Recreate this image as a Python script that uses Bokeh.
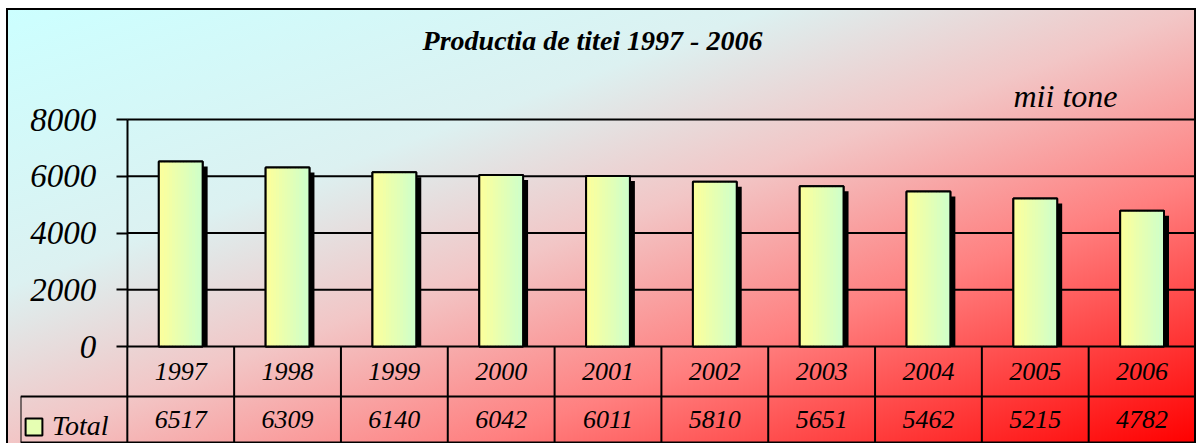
from bokeh.plotting import figure
from bokeh.models import (ColumnDataSource, FactorRange, Range1d, FixedTicker, Label,
                          Legend, LegendItem)
from bokeh.transform import dodge
from bokeh.core.properties import value
from bokeh.embed import file_html
from bokeh.resources import INLINE

# ---------------- data ----------------
years = ["1997", "1998", "1999", "2000", "2001", "2002", "2003", "2004", "2005", "2006"]
production = [6517, 6309, 6140, 6042, 6011, 5810, 5651, 5462, 5215, 4782]
y_ticks = [0, 2000, 4000, 6000, 8000]
title_text = "Productia de titei 1997 - 2006"
unit_text = "mii tone"
series_name = "Total"

# ---------------- layout constants (pixels) ----------------
W, H = 1197, 443        # canvas size
FRAME_L, FRAME_R = 20, 1195
ZERO_PX = 346           # y pixel of value 0
TOP_PX = 119            # y pixel of value 8000
YMAX = 8000
UPP = YMAX / (ZERO_PX - TOP_PX)                  # data units per pixel
factors = [series_name] + years                  # first column holds the legend cell
CAT_W = (FRAME_R - FRAME_L) / len(factors)


def ydata(py):
    return (ZERO_PX - py) * UPP


def xdata(px):
    return (px - FRAME_L) / CAT_W


FONT = "Liberation Serif"

p = figure(width=W, height=H,
           x_range=FactorRange(factors=factors, range_padding=0),
           y_range=Range1d(ydata(H), ydata(0)),
           x_axis_location=None, title=None,
           output_backend="svg", toolbar_location=None,
           min_border_left=FRAME_L, min_border_right=W - FRAME_R,
           min_border_top=0, min_border_bottom=0)

p.background_fill_color = None
p.border_fill_color = None
p.outline_line_color = None
p.styles = {
    "background": (
        "linear-gradient(#000,#000) 6px 8px / 2px 435px no-repeat, "
        "linear-gradient(#000,#000) 6px 8px / 1190px 2px no-repeat, "
        "linear-gradient(#000,#000) 1194px 8px / 2px 435px no-repeat, "
        "linear-gradient(to bottom right, #CCFFFF 0%, #DCF1F1 32%, "
        "#F2C6C6 50%, #FF8080 70%, #FF0000 100%) 8px 10px / 1186px 433px no-repeat, "
        "#ffffff"
    ),
}

n_end = len(factors)   # synthetic right edge

# grid lines (only across the plot area, not the legend column)
p.xgrid.visible = False
p.ygrid.visible = False
p.segment(x0=[1] * len(y_ticks), x1=[n_end] * len(y_ticks), y0=y_ticks, y1=y_ticks,
          line_color="black", line_width=2)

# y axis, drawn at the left edge of the plot area
yax = p.yaxis[0]
yax.fixed_location = 1
yax.ticker = FixedTicker(ticks=y_ticks)
yax.bounds = (0, YMAX)
yax.major_label_text_font = FONT
yax.major_label_text_font_style = "italic"
yax.major_label_text_font_size = "33px"
yax.major_label_text_color = "black"
yax.major_tick_out = 11
yax.major_tick_in = 0
yax.minor_tick_out = 0
yax.minor_tick_in = 0
yax.axis_line_width = 2
yax.axis_line_color = "black"
yax.major_tick_line_width = 2
yax.major_tick_line_color = "black"
yax.major_label_standoff = 20

src = ColumnDataSource(dict(year=years, value=production,
                            label=[str(v) for v in production]))

BW = 0.41
SHX = 5 / CAT_W
SHY = 5 * UPP

# shadow
p.vbar(x=dodge("year", SHX, range=p.x_range), top=dodge("value", -SHY, range=p.y_range),
       bottom=0, width=BW, source=src, fill_color="black", line_color=None)

# base bar (also used by legend)
base = p.vbar(x="year", top="value", bottom=0, width=BW, source=src,
              fill_color="#E6FFB3", line_color="black", line_width=2)

# gradient strips
N = 16
c0 = (255, 255, 153)
c1 = (204, 255, 204)
for k in range(N):
    t = (k + 0.5) / N
    col = "#%02x%02x%02x" % tuple(int(round(a + (b - a) * t)) for a, b in zip(c0, c1))
    off = -BW / 2 + (k + 0.5) * BW / N
    p.vbar(x=dodge("year", off, range=p.x_range), top="value", bottom=0,
           width=BW / N * 1.05, source=src, fill_color=col, line_color=None)

# outline on top
p.vbar(x="year", top="value", bottom=0, width=BW, source=src,
       fill_color=None, line_color="black", line_width=2)

# ---------------- data table ----------------
row1_bottom = ydata(396)
table_bottom = ydata(442)
vx = list(range(1, n_end + 1))
p.segment(x0=vx, x1=vx, y0=[0] * len(vx), y1=[table_bottom] * len(vx),
          line_color="black", line_width=2)
p.segment(x0=[0, 0, 0], x1=[n_end, n_end, 0],
          y0=[row1_bottom, table_bottom, row1_bottom],
          y1=[row1_bottom, table_bottom, table_bottom],
          line_color="black", line_width=2)

p.text(x="year", y=ydata(371), text="year", source=src, text_align="center",
       text_baseline="middle", text_font=value(FONT), text_font_style="italic",
       text_font_size="26px", text_color="black")
p.text(x="year", y=ydata(419), text="label", source=src, text_align="center",
       text_baseline="middle", text_font=value(FONT), text_font_style="italic",
       text_font_size="26px", text_color="black")

# legend cell
legend = Legend(items=[LegendItem(label=series_name, renderers=[base])],
                location=(3, 1), margin=0, padding=4,
                glyph_width=21, glyph_height=21, label_standoff=8,
                label_text_font=FONT, label_text_font_style="italic",
                label_text_font_size="28px", label_text_color="black",
                border_line_color=None, background_fill_alpha=0)
p.add_layout(legend)

# title and unit
p.add_layout(Label(x=xdata(592), y=ydata(40), text=title_text, text_align="center",
                   text_baseline="alphabetic", text_font=FONT,
                   text_font_style="bold italic", text_font_size="28px", text_color="black"))
p.add_layout(Label(x=xdata(1013), y=ydata(95), text=unit_text, text_align="left",
                   text_baseline="alphabetic", text_font=FONT,
                   text_font_style="italic", text_font_size="32px", text_color="black"))

open("out.html", "w").write(file_html(p, INLINE, title="Productia de titei"))
